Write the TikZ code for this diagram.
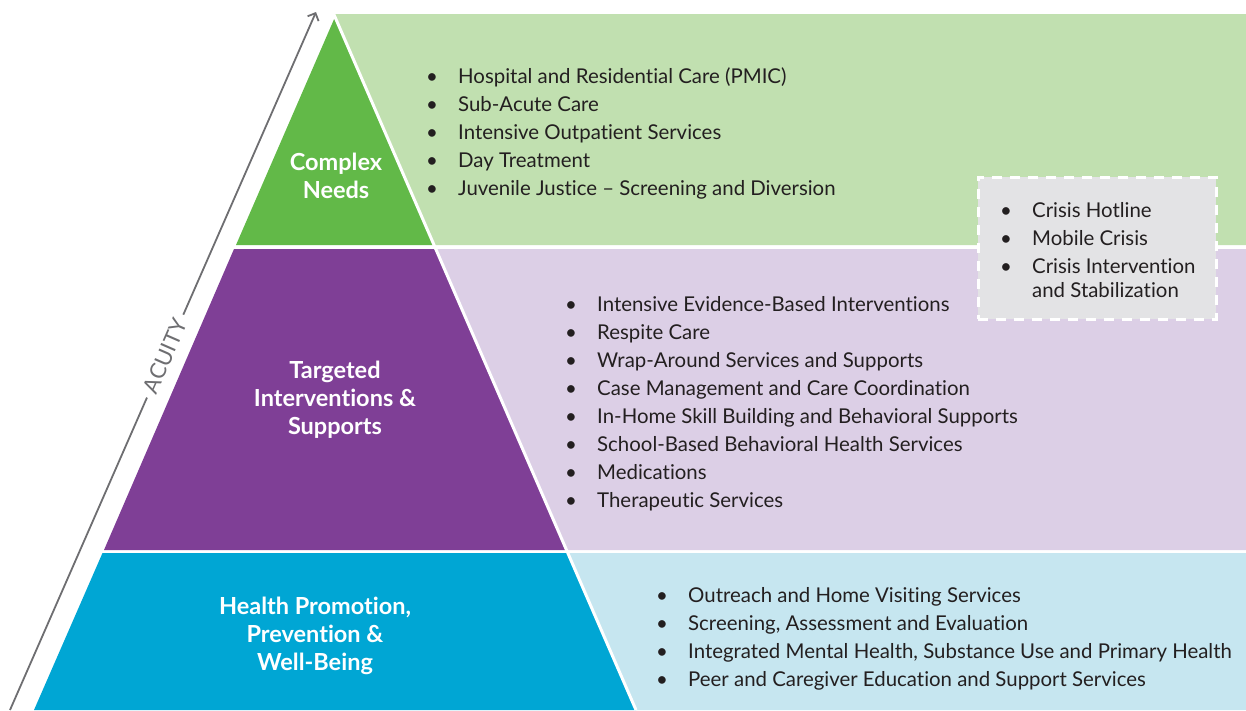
\documentclass[tikz,border=0pt]{standalone}
\usepackage{fontspec}
\setmainfont{Lato}[Ligatures={TeX,NoCommon}]
\usetikzlibrary{arrows.meta}
\definecolor{dgreen}{RGB}{98,185,72}
\definecolor{lgreen}{RGB}{193,224,176}
\definecolor{dpurple}{RGB}{127,63,150}
\definecolor{lpurple}{RGB}{220,207,230}
\definecolor{dblue}{RGB}{0,166,212}
\definecolor{lblue}{RGB}{198,230,240}
\definecolor{crisisgrey}{RGB}{227,227,229}
\definecolor{txt}{RGB}{35,31,32}
\definecolor{arrowgrey}{RGB}{110,110,113}
\newcommand\itemdot{\makebox[32pt][l]{\textbullet}}
\begin{document}
\begin{tikzpicture}[x=1pt,y=-1pt,
  listtext/.style={anchor=base west, inner sep=0pt, text=txt, font=\fontsize{20.4}{28}\selectfont},
  tierlabel/.style={text=white, font=\bfseries\fontsize{23.5}{28}\selectfont, align=center, inner sep=0pt},
  sepline/.style={white, line width=3pt},
  acuityline/.style={arrowgrey, line width=1.8pt, -{Straight Barb[length=6pt,width=12pt,line width=1.8pt]}},
  crisisbox/.style={fill=crisisgrey, draw=white, line width=3pt, dash pattern=on 10pt off 8pt}
]
\useasboundingbox (0,0) rectangle (1246,710);
% light bands
\fill[lgreen] (334,14) -- (1246,14) -- (1246,245) -- (434,245) -- cycle;
\fill[lpurple] (436,249) -- (1246,249) -- (1246,550) -- (566,550) -- cycle;
\fill[lblue] (567.5,553) -- (1246,553) -- (1246,710) -- (636,710) -- cycle;
% pyramid tiers
\fill[dgreen] (335,17) -- (236,245) -- (434,245) -- cycle;
\fill[dpurple] (234,249) -- (104,550) -- (566,550) -- (436,249) -- cycle;
\fill[dblue] (102.5,553) -- (34,710) -- (636,710) -- (567.5,553) -- cycle;
% white diagonal separator
\draw[sepline] (333.7,14) -- (636,710);
% tier labels
\node[tierlabel] (complex) at (336,176) {Complex\\Needs};
\node[tierlabel] (targeted) at (335,400) {Targeted\\Interventions \&\\Supports};
\node[tierlabel] (health) at (315,636) {Health Promotion,\\Prevention \&\\Well-Being};
% lists
\node[listtext] (list1) at (426,83) {\begin{tabular}[t]{@{}l@{}}
\itemdot Hospital and Residential Care (PMIC)\\
\itemdot Sub-Acute Care\\
\itemdot Intensive Outpatient Services\\
\itemdot Day Treatment\\
\itemdot Juvenile Justice -- Screening and Diversion
\end{tabular}};
\node[listtext] (list2) at (565,311) {\begin{tabular}[t]{@{}l@{}}
\itemdot Intensive Evidence-Based Interventions\\
\itemdot Respite Care\\
\itemdot Wrap-Around Services and Supports\\
\itemdot Case Management and Care Coordination\\
\itemdot In-Home Skill Building and Behavioral Supports\\
\itemdot School-Based Behavioral Health Services\\
\itemdot Medications\\
\itemdot Therapeutic Services
\end{tabular}};
\node[listtext] (list3) at (656,602) {\begin{tabular}[t]{@{}l@{}}
\itemdot Outreach and Home Visiting Services\\
\itemdot Screening, Assessment and Evaluation\\
\itemdot Integrated Mental Health, Substance Use and Primary Health\\
\itemdot Peer and Caregiver Education and Support Services
\end{tabular}};
% crisis box
\node[crisisbox, minimum width=238pt, minimum height=142pt, inner sep=0pt] (crisis) at (1097,248) {};
\node[listtext] (crisislist) at (1000,217) {\begin{tabular}[t]{@{}l@{}}
\itemdot Crisis Hotline\\
\itemdot Mobile Crisis\\
\itemdot Crisis Intervention\\[-4pt]
\hspace{32pt}and Stabilization
\end{tabular}};
% acuity arrow
\coordinate (a0) at (10,710);
\coordinate (a1) at (316,12);
\draw[acuityline] (a0) -- node[pos=0.507, sloped, fill=white, inner xsep=6pt, inner ysep=2pt, text=arrowgrey, font=\fontsize{22}{24}\selectfont] (acuity) {ACUITY} (a1);
\end{tikzpicture}
\end{document}
